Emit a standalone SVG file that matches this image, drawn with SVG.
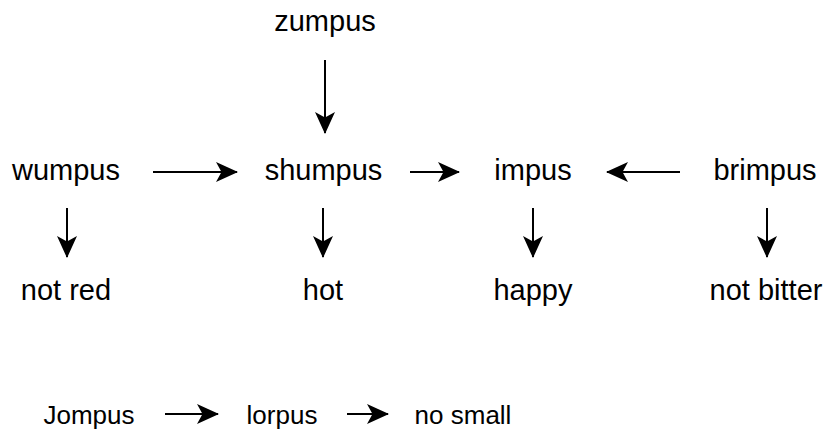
<svg xmlns="http://www.w3.org/2000/svg" width="825" height="429" viewBox="0 0 825 429">
<style>
text{font-family:"Liberation Sans",Arial,sans-serif;fill:#000;text-anchor:middle}
.t{font-size:29px}
.b{font-size:26px}
.c line{stroke:#000;stroke-width:2;marker-end:url(#ah)}
</style>
<defs>
<marker id="ah" markerUnits="userSpaceOnUse" viewBox="0 0 22 20" refX="21" refY="10" markerWidth="22" markerHeight="20" orient="auto">
<path d="M22,10 L0,0 L5.5,10 L0,20 Z" fill="#000"/>
</marker>
</defs>
<rect width="825" height="429" fill="#fff"/>
<g id="zumpus"><text class="t" x="325" y="31">zumpus</text></g>
<g id="wumpus"><text class="t" x="66" y="180">wumpus</text></g>
<g id="shumpus"><text class="t" x="323.5" y="180">shumpus</text></g>
<g id="impus"><text class="t" x="533" y="180">impus</text></g>
<g id="brimpus"><text class="t" x="765" y="180">brimpus</text></g>
<g id="not-red"><text class="t" x="66" y="300">not red</text></g>
<g id="hot"><text class="t" x="323" y="300">hot</text></g>
<g id="happy"><text class="t" x="533" y="300">happy</text></g>
<g id="not-bitter"><text class="t" x="766" y="300">not bitter</text></g>
<g id="jompus"><text class="b" x="89" y="424">Jompus</text></g>
<g id="lorpus"><text class="b" x="282" y="424">lorpus</text></g>
<g id="no-small"><text class="b" x="463" y="424">no small</text></g>
<g id="connectors" class="c">
<line x1="325" y1="60" x2="325" y2="133"/>
<line x1="153" y1="172" x2="237" y2="172"/>
<line x1="410" y1="172" x2="459" y2="172"/>
<line x1="680" y1="172" x2="607" y2="172"/>
<line x1="67" y1="208" x2="67" y2="257"/>
<line x1="323" y1="208" x2="323" y2="257"/>
<line x1="533" y1="208" x2="533" y2="257"/>
<line x1="767" y1="208" x2="767" y2="257"/>
<line x1="165" y1="414" x2="218" y2="414"/>
<line x1="347" y1="414" x2="388" y2="414"/>
</g>
</svg>
